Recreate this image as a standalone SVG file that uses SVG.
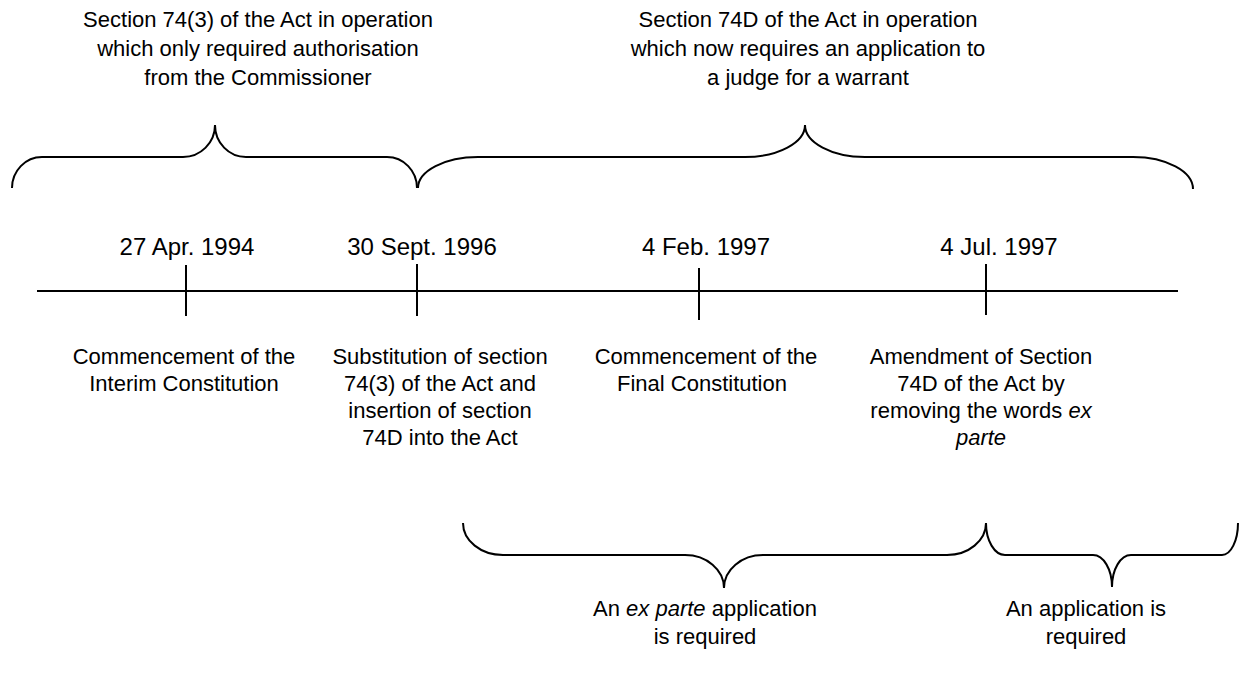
<svg xmlns="http://www.w3.org/2000/svg" width="1241" height="682" viewBox="0 0 1241 682">
<style>
.t{font-family:"Liberation Sans",Arial,sans-serif;font-size:22px;fill:#000;text-anchor:middle}
.d{font-family:"Liberation Sans",Arial,sans-serif;font-size:24px;fill:#000;text-anchor:middle}
.i{font-style:italic}
.br{fill:none;stroke:#000;stroke-width:2}
.ln{fill:none;stroke:#000;stroke-width:2}
</style>
<rect width="1241" height="682" fill="#fff"/>
<g id="connectors">
<line class="ln" x1="37" y1="291" x2="1178" y2="291"/>
<line class="ln" x1="186" y1="265" x2="186" y2="316"/>
<line class="ln" x1="417" y1="264" x2="417" y2="316"/>
<line class="ln" x1="699" y1="268" x2="699" y2="320"/>
<line class="ln" x1="986" y1="264" x2="986" y2="315"/>
</g>
<g id="brace-top-left">
<path class="br" d="M12,188 A30,31 0 0 1 42,157 L183,157 A32,32 0 0 0 215,125 A31,32 0 0 0 246,157 L387,157 A30,31 0 0 1 417,188"/>
<text class="t" x="258" y="27">Section 74(3) of the Act in operation</text>
<text class="t" x="258" y="56">which only required authorisation</text>
<text class="t" x="258" y="85">from the Commissioner</text>
</g>
<g id="brace-top-right">
<path class="br" d="M418,188 A60,31 0 0 1 478,157 L745,157 A60,32 0 0 0 805,125 A60,32 0 0 0 865,157 L1133,157 A60,32 0 0 1 1193,189"/>
<text class="t" x="808" y="27">Section 74D of the Act in operation</text>
<text class="t" x="808" y="56">which now requires an application to</text>
<text class="t" x="808" y="85">a judge for a warrant</text>
</g>
<g id="date-1994">
<text class="d" x="187" y="255">27 Apr. 1994</text>
<text class="t" x="184" y="364">Commencement of the</text>
<text class="t" x="184" y="391">Interim Constitution</text>
</g>
<g id="date-1996">
<text class="d" x="422" y="255">30 Sept. 1996</text>
<text class="t" x="440" y="364">Substitution of section</text>
<text class="t" x="440" y="391">74(3) of the Act and</text>
<text class="t" x="440" y="418">insertion of section</text>
<text class="t" x="440" y="445">74D into the Act</text>
</g>
<g id="date-feb-1997">
<text class="d" x="706" y="255">4 Feb. 1997</text>
<text class="t" x="706" y="364">Commencement of the</text>
<text class="t" x="702" y="391">Final Constitution</text>
</g>
<g id="date-jul-1997">
<text class="d" x="999" y="255">4 Jul. 1997</text>
<text class="t" x="981" y="364">Amendment of Section</text>
<text class="t" x="981" y="391">74D of the Act by</text>
<text class="t" x="981" y="418">removing the words <tspan class="i">ex</tspan></text>
<text class="t i" x="981" y="445">parte</text>
</g>
<g id="brace-bottom-left">
<path class="br" d="M463,523 A40,32 0 0 0 503,555 L685,555 A39,33 0 0 1 724,588 A39,33 0 0 1 763,555 L947,555 A39,32 0 0 0 986,523"/>
<text class="t" x="705" y="616">An <tspan class="i">ex parte</tspan> application</text>
<text class="t" x="705" y="644">is required</text>
</g>
<g id="brace-bottom-right">
<path class="br" d="M986,523 A19,32 0 0 0 1005,555 L1093,555 A19,32 0 0 1 1112,587 A19,32 0 0 1 1131,555 L1222,555 A16,32 0 0 0 1238,523"/>
<text class="t" x="1086" y="616">An application is</text>
<text class="t" x="1086" y="644">required</text>
</g>
</svg>
